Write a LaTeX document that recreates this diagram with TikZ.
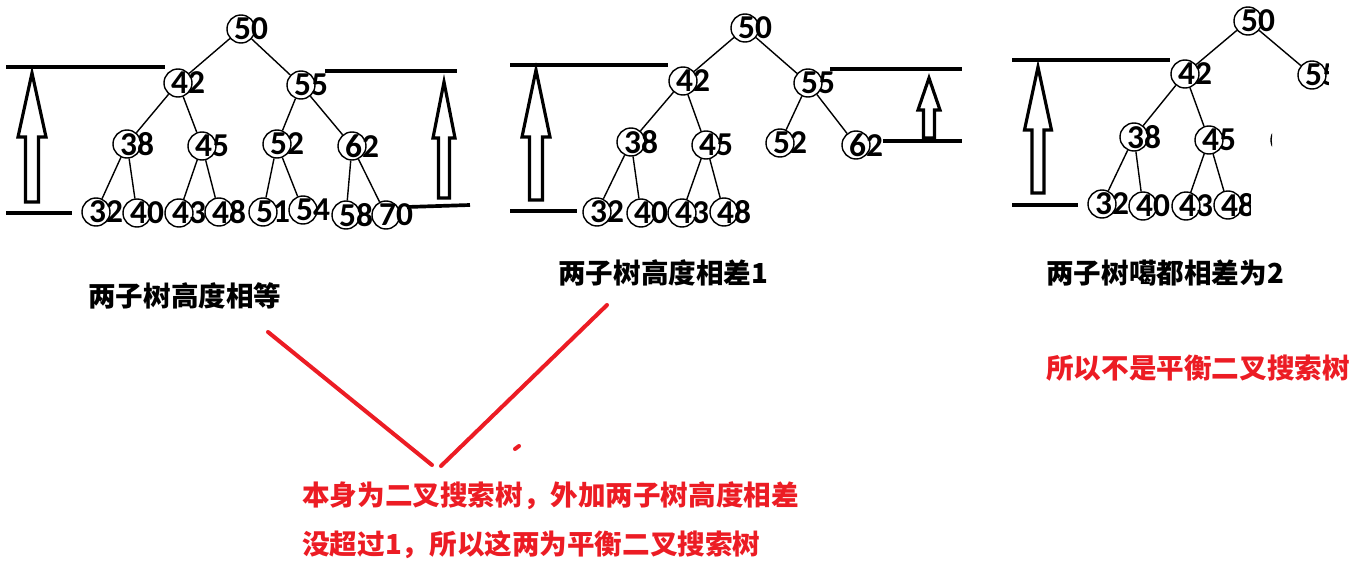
\documentclass[tikz,border=0pt]{standalone}
\usepackage{fontspec}
\setmainfont{Noto Sans CJK SC}
\newfontfamily\numfont{Carlito}
\usetikzlibrary{positioning}
\definecolor{mred}{RGB}{236,28,36}
\tikzstyle{tnode} = [circle, draw=black, line width=0.8pt, minimum size=0.56cm, inner sep=0pt, fill=white, font=\numfont\bfseries\fontsize{19}{19}\selectfont]
\tikzstyle{edge} = [line width=0.8pt]
\tikzstyle{bar} = [line width=2.1pt]
\tikzstyle{hollow} = [line width=1.8pt, line join=miter]
\tikzstyle{caption} = [font=\bfseries\fontsize{15.7}{18}\selectfont, anchor=west, inner sep=0pt]
\tikzstyle{remark} = [caption, text=mred]
\tikzstyle{redline} = [draw=mred, line width=2.3pt, line cap=round]
% number slightly off centre, as in the sketch
\newcommand{\nv}[1]{\raisebox{-0.05cm}{\makebox[0pt]{\hspace{0.4cm}#1}}}
% hollow up arrow: tip x, tip y, head half width, shaft half width, head base y, bottom y
\newcommand{\hollowarrow}[6]{\draw[hollow] (#1-#4,#6) -- (#1-#4,#5) -- (#1-#3,#5) -- (#1,#2) -- (#1+#3,#5) -- (#1+#4,#5) -- (#1+#4,#6) -- cycle;}

\begin{document}
\begin{tikzpicture}[x=0.02cm, y=-0.02cm]
\useasboundingbox (0,0) rectangle (1357,561);

% Tree 1: both subtrees equal
\foreach \n/\x/\y in {50/241/29, 42/178/83, 55/301/85, 38/127/144, 45/202/146, 52/277/144, 62/352/146,
  32/96/212, 40/137/213, 43/179/213, 48/219/212, 51/263/212, 54/303/210, 58/346/215, 70/386/215}
  \node (a\n) [tnode] at (\x,\y) {\nv{\n}};
\foreach \p/\c in {50/42, 50/55, 42/38, 42/45, 55/52, 55/62, 38/32, 38/40, 45/43, 45/48, 52/51, 52/54, 62/58, 62/70}
  \draw [edge] (a\p) -- (a\c);
\draw [bar] (6,67) -- (165,67);
\draw [bar] (325,71) -- (457,71);
\draw [bar] (6,213) -- (72,213);
\draw [bar] (407,207) -- (470,205);
\hollowarrow{32}{73}{14}{6.5}{137}{202}
\hollowarrow{444}{82}{11}{5.5}{138}{198}

% Tree 2: heights differ by 1
\foreach \n/\x/\y in {50/745/28, 42/683/81, 55/808/83, 38/631/142, 45/706/145, 52/780/143, 62/856/145,
  32/597/212, 40/641/213, 43/682/213, 48/724/212}
  \node (b\n) [tnode] at (\x,\y) {\nv{\n}};
\foreach \p/\c in {50/42, 50/55, 42/38, 42/45, 55/52, 55/62, 38/32, 38/40, 45/43, 45/48}
  \draw [edge] (b\p) -- (b\c);
\draw [bar] (510,65) -- (668,65);
\draw [bar] (830,69) -- (962,69);
\draw [bar] (510,211) -- (577,211);
\draw [bar] (883,141) -- (962,141);
\hollowarrow{536}{70}{14}{6.5}{137}{200}
\hollowarrow{929}{78}{11}{5.5}{110}{138}

% Tree 3: cut off on the right
\foreach \n/\x/\y in {50/1248/21, 42/1185/74, 38/1134/137, 45/1209/140, 32/1102/204, 40/1143/206, 43/1186/206}
  \node (c\n) [tnode] at (\x,\y) {\nv{\n}};
\begin{scope}
\clip (1280,50) rectangle (1328,92);
\node (c55) [tnode] at (1312,75) {\nv{55}};
\end{scope}
\begin{scope}
\clip (1255,120) rectangle (1272,160);
\node (c52) [tnode] at (1285,140) {\nv{52}};
\end{scope}
\begin{scope}
\clip (1200,185) rectangle (1250,235);
\node (c48) [tnode] at (1228,205) {\nv{48}};
\end{scope}
\foreach \p/\c in {50/42, 50/55, 42/38, 42/45, 38/32, 38/40, 45/43, 45/48}
  \draw [edge] (c\p) -- (c\c);
\draw [bar] (1012,60) -- (1170,60);
\draw [bar] (1012,205) -- (1078,205);
\hollowarrow{1038}{67}{13.5}{6}{130}{193}

% Captions
\node (cap1) [caption] at (88,296) {两子树高度相等};
\node (cap2) [caption] at (558,273) {两子树高度相差1};
\node (cap3) [caption] at (1046,273) {两子树噶都相差为2};
\node (note3) [remark] at (1046,368) {所以不是平衡二叉搜索树};
\node (note1) [remark] at (302,496) {本身为二叉搜索树，外加两子树高度相差};
\node (note2) [remark] at (302,545) {没超过1，所以这两为平衡二叉搜索树};

% red V
\coordinate (vl) at (268,332);
\coordinate (vr) at (607,305);
\coordinate (vb1) at (432,465);
\coordinate (vb2) at (441,466);
\draw [redline] (vl) -- (vb1);
\draw [redline] (vr) -- (vb2);
\draw [redline] (515,449) -- (519,446);

\end{tikzpicture}
\end{document}
